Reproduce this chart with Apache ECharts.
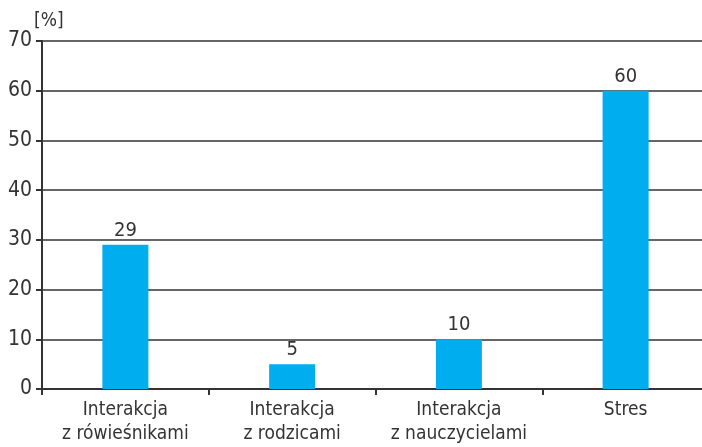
<!DOCTYPE html>
<html><head><meta charset="utf-8">
<script src="https://cdn.jsdelivr.net/npm/echarts@6/dist/echarts.min.js"></script>
<style>html,body{margin:0;padding:0;background:#fff}#c{width:702px;height:447px}</style>
</head><body><div id="c"></div>
<script>
const categories = ["Interakcja\nz rówieśnikami", "Interakcja\nz rodzicami", "Interakcja\nz nauczycielami", "Stres"];
const values = [29, 5, 10, 60];
const yTicks = {min: 0, max: 70, interval: 10};
const FONT = '"Liberation Sans Narrow", "DejaVu Sans Condensed", sans-serif';
const chart = echarts.init(document.getElementById('c'));
chart.setOption({
  animation: false,
  grid: {left: 42, top: 41, width: 667, bottom: 58, containLabel: false, outerBoundsMode: 'none'},
  xAxis: {
    type: 'category', data: categories,
    axisLine: {lineStyle: {color: '#333', width: 2}},
    axisTick: {show: true, interval: 0, length: 6, lineStyle: {color: '#333', width: 2}},
    axisLabel: {interval: 0, hideOverlap: false, color: '#333', fontSize: 19, fontFamily: FONT, lineHeight: 24, margin: 9}
  },
  yAxis: {
    type: 'value', min: yTicks.min, max: yTicks.max, interval: yTicks.interval,
    name: '[%]', nameLocation: 'end', nameGap: 8,
    nameTextStyle: {color: '#333', fontSize: 19, fontFamily: FONT, align: 'left', padding: [0, 0, 0, -8]},
    axisLine: {show: true, lineStyle: {color: '#333', width: 2}},
    axisTick: {show: true, length: 6, lineStyle: {color: '#333', width: 2}},
    axisLabel: {color: '#333', fontSize: 21, fontFamily: FONT, margin: 10},
    splitLine: {lineStyle: {color: '#333', width: 1.5}}
  },
  series: [{
    type: 'bar', data: values, barWidth: 46,
    itemStyle: {color: '#00AEEF'},
    label: {show: true, position: 'top', color: '#333', fontSize: 20, fontFamily: FONT, distance: 4}
  }]
});
</script></body></html>
